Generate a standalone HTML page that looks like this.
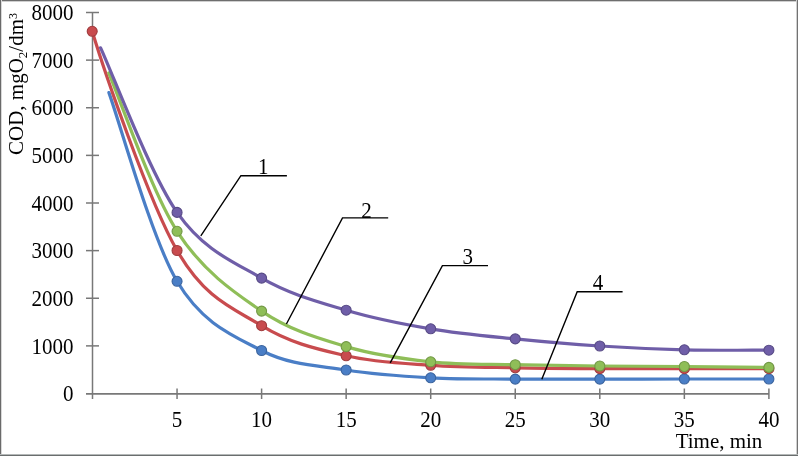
<!DOCTYPE html>
<html><head><meta charset="utf-8"><style>
html,body{margin:0;padding:0;background:#fff;}
body{width:798px;height:456px;overflow:hidden;position:relative;}
svg{position:absolute;left:0;top:0;will-change:transform;}
text{font-family:"Liberation Serif",serif;font-size:21px;fill:#000;}
</style></head><body>
<svg width="798" height="456" viewBox="0 0 798 456">
<rect x="0" y="0" width="798" height="456" fill="#fff"/>
<line x1="92.5" y1="12.5" x2="92.5" y2="399" stroke="#787878" stroke-width="1.5"/>
<line x1="86" y1="393.9" x2="769" y2="393.9" stroke="#787878" stroke-width="1.6"/>
<line x1="86" y1="345.88" x2="99" y2="345.88" stroke="#787878" stroke-width="1.5"/>
<line x1="86" y1="298.25" x2="99" y2="298.25" stroke="#787878" stroke-width="1.5"/>
<line x1="86" y1="250.62" x2="99" y2="250.62" stroke="#787878" stroke-width="1.5"/>
<line x1="86" y1="203.00" x2="99" y2="203.00" stroke="#787878" stroke-width="1.5"/>
<line x1="86" y1="155.38" x2="99" y2="155.38" stroke="#787878" stroke-width="1.5"/>
<line x1="86" y1="107.75" x2="99" y2="107.75" stroke="#787878" stroke-width="1.5"/>
<line x1="86" y1="60.12" x2="99" y2="60.12" stroke="#787878" stroke-width="1.5"/>
<line x1="86" y1="12.50" x2="99" y2="12.50" stroke="#787878" stroke-width="1.5"/>
<line x1="177.05" y1="388.5" x2="177.05" y2="399" stroke="#787878" stroke-width="1.5"/>
<line x1="261.60" y1="388.5" x2="261.60" y2="399" stroke="#787878" stroke-width="1.5"/>
<line x1="346.15" y1="388.5" x2="346.15" y2="399" stroke="#787878" stroke-width="1.5"/>
<line x1="430.70" y1="388.5" x2="430.70" y2="399" stroke="#787878" stroke-width="1.5"/>
<line x1="515.25" y1="388.5" x2="515.25" y2="399" stroke="#787878" stroke-width="1.5"/>
<line x1="599.80" y1="388.5" x2="599.80" y2="399" stroke="#787878" stroke-width="1.5"/>
<line x1="684.35" y1="388.5" x2="684.35" y2="399" stroke="#787878" stroke-width="1.5"/>
<line x1="768.90" y1="388.5" x2="768.90" y2="399" stroke="#787878" stroke-width="1.5"/>
<path d="M108.90,92.60 C120.26,124.05 151.60,238.32 177.05,281.30 C202.50,324.28 233.42,335.72 261.60,350.50 C289.78,365.28 317.97,365.45 346.15,370.00 C374.33,374.55 402.52,376.28 430.70,377.80 C458.88,379.32 487.07,378.88 515.25,379.10 C543.43,379.32 571.62,379.12 599.80,379.10 C627.98,379.08 656.17,379.02 684.35,379.00 C712.53,378.98 754.81,379.00 768.90,379.00" fill="none" stroke="#4A7EC6" stroke-width="3.2" stroke-linecap="round" stroke-linejoin="round"/>
<circle cx="177.05" cy="281.30" r="5.0" fill="#4A7EC6" stroke="#3b649e" stroke-width="1.1"/>
<circle cx="261.60" cy="350.50" r="5.0" fill="#4A7EC6" stroke="#3b649e" stroke-width="1.1"/>
<circle cx="346.15" cy="370.00" r="5.0" fill="#4A7EC6" stroke="#3b649e" stroke-width="1.1"/>
<circle cx="430.70" cy="377.80" r="5.0" fill="#4A7EC6" stroke="#3b649e" stroke-width="1.1"/>
<circle cx="515.25" cy="379.10" r="5.0" fill="#4A7EC6" stroke="#3b649e" stroke-width="1.1"/>
<circle cx="599.80" cy="379.10" r="5.0" fill="#4A7EC6" stroke="#3b649e" stroke-width="1.1"/>
<circle cx="684.35" cy="379.00" r="5.0" fill="#4A7EC6" stroke="#3b649e" stroke-width="1.1"/>
<circle cx="768.90" cy="379.00" r="5.0" fill="#4A7EC6" stroke="#3b649e" stroke-width="1.1"/>
<path d="M92.20,31.30 C103.20,67.80 148.82,201.43 177.05,250.50 C205.28,299.57 233.42,308.15 261.60,325.70 C289.78,343.25 317.97,349.20 346.15,355.80 C374.33,362.40 402.52,363.30 430.70,365.30 C458.88,367.30 487.07,367.25 515.25,367.80 C543.43,368.35 571.62,368.45 599.80,368.60 C627.98,368.75 656.17,368.68 684.35,368.70 C712.53,368.72 754.81,368.70 768.90,368.70" fill="none" stroke="#C84B4E" stroke-width="3.2" stroke-linecap="round" stroke-linejoin="round"/>
<circle cx="92.20" cy="31.30" r="5.0" fill="#C84B4E" stroke="#a03c3e" stroke-width="1.1"/>
<circle cx="177.05" cy="250.50" r="5.0" fill="#C84B4E" stroke="#a03c3e" stroke-width="1.1"/>
<circle cx="261.60" cy="325.70" r="5.0" fill="#C84B4E" stroke="#a03c3e" stroke-width="1.1"/>
<circle cx="346.15" cy="355.80" r="5.0" fill="#C84B4E" stroke="#a03c3e" stroke-width="1.1"/>
<circle cx="430.70" cy="365.30" r="5.0" fill="#C84B4E" stroke="#a03c3e" stroke-width="1.1"/>
<circle cx="515.25" cy="367.80" r="5.0" fill="#C84B4E" stroke="#a03c3e" stroke-width="1.1"/>
<circle cx="599.80" cy="368.60" r="5.0" fill="#C84B4E" stroke="#a03c3e" stroke-width="1.1"/>
<circle cx="684.35" cy="368.70" r="5.0" fill="#C84B4E" stroke="#a03c3e" stroke-width="1.1"/>
<circle cx="768.90" cy="368.70" r="5.0" fill="#C84B4E" stroke="#a03c3e" stroke-width="1.1"/>
<path d="M108.80,73.00 C120.17,99.38 151.58,191.62 177.05,231.30 C202.52,270.98 233.42,291.88 261.60,311.10 C289.78,330.32 317.97,338.15 346.15,346.60 C374.33,355.05 402.52,358.78 430.70,361.80 C458.88,364.82 487.07,364.00 515.25,364.70 C543.43,365.40 571.62,365.70 599.80,366.00 C627.98,366.30 656.17,366.27 684.35,366.50 C712.53,366.73 754.81,367.25 768.90,367.40" fill="none" stroke="#8FBE58" stroke-width="3.2" stroke-linecap="round" stroke-linejoin="round"/>
<circle cx="177.05" cy="231.30" r="5.0" fill="#8FBE58" stroke="#729846" stroke-width="1.1"/>
<circle cx="261.60" cy="311.10" r="5.0" fill="#8FBE58" stroke="#729846" stroke-width="1.1"/>
<circle cx="346.15" cy="346.60" r="5.0" fill="#8FBE58" stroke="#729846" stroke-width="1.1"/>
<circle cx="430.70" cy="361.80" r="5.0" fill="#8FBE58" stroke="#729846" stroke-width="1.1"/>
<circle cx="515.25" cy="364.70" r="5.0" fill="#8FBE58" stroke="#729846" stroke-width="1.1"/>
<circle cx="599.80" cy="366.00" r="5.0" fill="#8FBE58" stroke="#729846" stroke-width="1.1"/>
<circle cx="684.35" cy="366.50" r="5.0" fill="#8FBE58" stroke="#729846" stroke-width="1.1"/>
<circle cx="768.90" cy="367.40" r="5.0" fill="#8FBE58" stroke="#729846" stroke-width="1.1"/>
<path d="M100.60,47.80 C113.34,75.23 150.22,174.02 177.05,212.40 C203.88,250.78 233.42,261.80 261.60,278.10 C289.78,294.40 317.97,301.75 346.15,310.20 C374.33,318.65 402.52,324.02 430.70,328.80 C458.88,333.58 487.07,336.03 515.25,338.90 C543.43,341.77 571.62,344.18 599.80,346.00 C627.98,347.82 656.17,349.10 684.35,349.80 C712.53,350.50 754.81,350.13 768.90,350.20" fill="none" stroke="#6F5EA8" stroke-width="3.2" stroke-linecap="round" stroke-linejoin="round"/>
<circle cx="177.05" cy="212.40" r="5.0" fill="#6F5EA8" stroke="#584b86" stroke-width="1.1"/>
<circle cx="261.60" cy="278.10" r="5.0" fill="#6F5EA8" stroke="#584b86" stroke-width="1.1"/>
<circle cx="346.15" cy="310.20" r="5.0" fill="#6F5EA8" stroke="#584b86" stroke-width="1.1"/>
<circle cx="430.70" cy="328.80" r="5.0" fill="#6F5EA8" stroke="#584b86" stroke-width="1.1"/>
<circle cx="515.25" cy="338.90" r="5.0" fill="#6F5EA8" stroke="#584b86" stroke-width="1.1"/>
<circle cx="599.80" cy="346.00" r="5.0" fill="#6F5EA8" stroke="#584b86" stroke-width="1.1"/>
<circle cx="684.35" cy="349.80" r="5.0" fill="#6F5EA8" stroke="#584b86" stroke-width="1.1"/>
<circle cx="768.90" cy="350.20" r="5.0" fill="#6F5EA8" stroke="#584b86" stroke-width="1.1"/>
<polyline points="200.8,235.8 240.9,175.7 286.9,175.7" fill="none" stroke="#000" stroke-width="1.4"/>
<polyline points="286.4,324.0 342.5,217.9 388.2,217.9" fill="none" stroke="#000" stroke-width="1.4"/>
<polyline points="390.2,362.8 442.4,265.6 488,265.6" fill="none" stroke="#000" stroke-width="1.4"/>
<polyline points="541.8,379.2 577.2,291.7 622.6,291.7" fill="none" stroke="#000" stroke-width="1.4"/>
<text transform="translate(73.50,401.20) scale(1,1.07)" text-anchor="end" font-size="21">0</text>
<text transform="translate(73.50,353.57) scale(1,1.07)" text-anchor="end" font-size="21">1000</text>
<text transform="translate(73.50,305.95) scale(1,1.07)" text-anchor="end" font-size="21">2000</text>
<text transform="translate(73.50,258.32) scale(1,1.07)" text-anchor="end" font-size="21">3000</text>
<text transform="translate(73.50,210.70) scale(1,1.07)" text-anchor="end" font-size="21">4000</text>
<text transform="translate(73.50,163.07) scale(1,1.07)" text-anchor="end" font-size="21">5000</text>
<text transform="translate(73.50,115.45) scale(1,1.07)" text-anchor="end" font-size="21">6000</text>
<text transform="translate(73.50,67.83) scale(1,1.07)" text-anchor="end" font-size="21">7000</text>
<text transform="translate(73.50,20.20) scale(1,1.07)" text-anchor="end" font-size="21">8000</text>
<text transform="translate(177.05,426.50) scale(1,1.07)" text-anchor="middle" font-size="21">5</text>
<text transform="translate(261.60,426.50) scale(1,1.07)" text-anchor="middle" font-size="21">10</text>
<text transform="translate(346.15,426.50) scale(1,1.07)" text-anchor="middle" font-size="21">15</text>
<text transform="translate(430.70,426.50) scale(1,1.07)" text-anchor="middle" font-size="21">20</text>
<text transform="translate(515.25,426.50) scale(1,1.07)" text-anchor="middle" font-size="21">25</text>
<text transform="translate(599.80,426.50) scale(1,1.07)" text-anchor="middle" font-size="21">30</text>
<text transform="translate(684.35,426.50) scale(1,1.07)" text-anchor="middle" font-size="21">35</text>
<text transform="translate(768.90,426.50) scale(1,1.07)" text-anchor="middle" font-size="21">40</text>
<text transform="translate(263.30,173.80) scale(1,1.05)" text-anchor="middle" font-size="21">1</text>
<text transform="translate(366.60,217.50) scale(1,1.05)" text-anchor="middle" font-size="21">2</text>
<text transform="translate(467.80,263.70) scale(1,1.05)" text-anchor="middle" font-size="21">3</text>
<text transform="translate(597.90,290.00) scale(1,1.05)" text-anchor="middle" font-size="21">4</text>
<text transform="translate(719.00,448.30) scale(1,1.03)" text-anchor="middle" font-size="21">Time, min</text>
<text transform="translate(23,84) rotate(-90)" text-anchor="middle" font-size="21">COD, mgO<tspan font-size="13" dy="4">2</tspan><tspan dy="-4">/dm</tspan><tspan font-size="12" dy="-6.5">3</tspan></text>
<rect x="0" y="0" width="798" height="1" fill="#6e6e6e"/><rect x="0" y="1" width="798" height="1" fill="#cfcfcf"/><rect x="0" y="0" width="1" height="456" fill="#6a6a6a"/><rect x="1" y="0" width="1" height="456" fill="#d8d8d8"/><rect x="797" y="0" width="1" height="456" fill="#727272"/><rect x="796" y="0" width="1" height="456" fill="#d0d0d0"/><rect x="0" y="455" width="798" height="1" fill="#6a6e6e"/><rect x="0" y="454" width="798" height="1" fill="#b4b8b8"/>
</svg>
</body></html>
